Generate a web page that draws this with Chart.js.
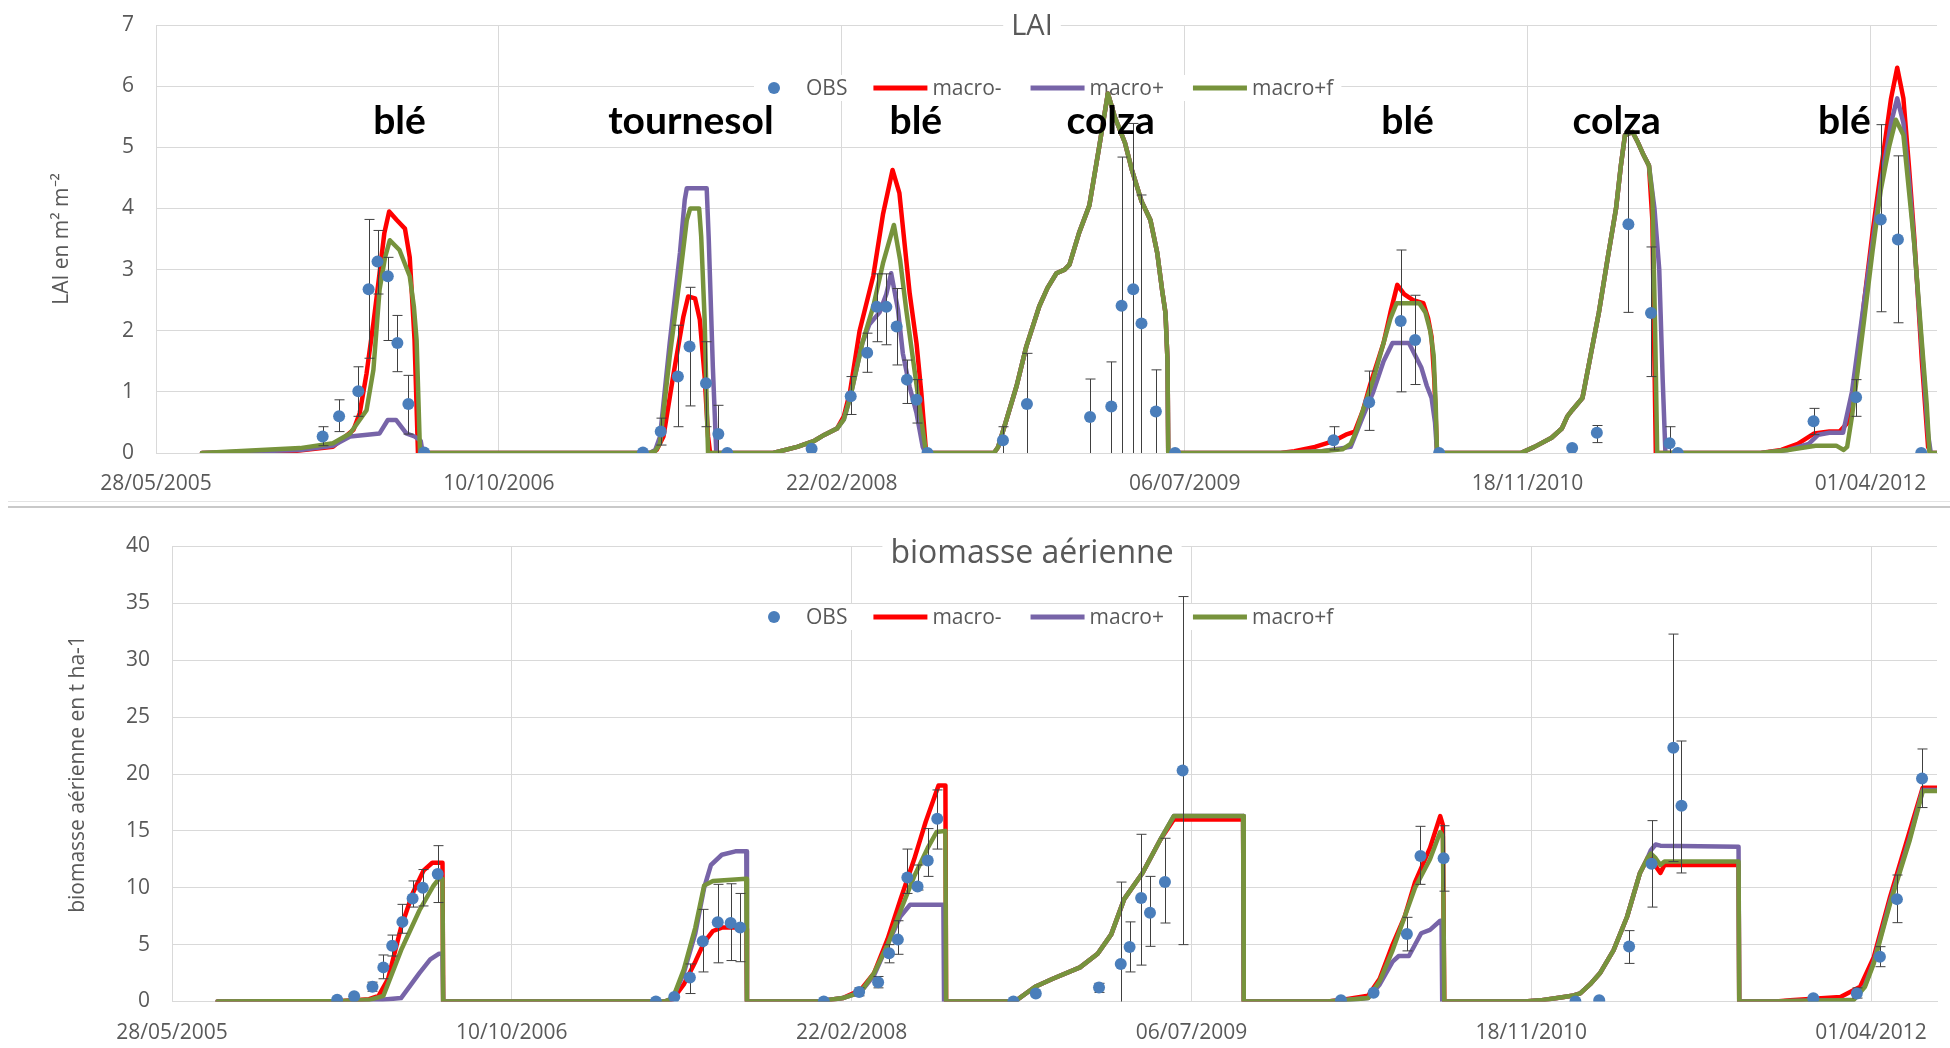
<!DOCTYPE html>
<html>
<head>
<meta charset="utf-8">
<script src="https://cdn.jsdelivr.net/npm/chart.js@4.4.1/dist/chart.umd.min.js"></script>
<style>
  body { margin: 0; background: #fff; width: 1950px; height: 1048px; overflow: hidden; position: relative; }
  #lai { position: absolute; left: 0; top: 0; }
  #bio { position: absolute; left: 0; top: 510px; }
  .sep { position: absolute; left: 8px; right: 0; top: 501px; height: 4px; border-top: 1px solid #e3e3e3; border-bottom: 2px solid #c9c9c9; }
</style>
</head>
<body>
<canvas id="lai" width="1950" height="503"></canvas>
<div class="sep"></div>
<canvas id="bio" width="1950" height="538"></canvas>
<script>
// jours depuis le 28/05/2005
const START = Date.UTC(2005, 4, 28);
const tickDays = [0, 500, 1000, 1500, 2000, 2500];
const seriesNames = ['OBS', 'macro-', 'macro+', 'macro+f'];

// ---- LAI ----
const laiObsDay = [243, 267, 295, 310, 323, 338, 352, 368, 391,
  710, 736, 761, 778, 802, 820, 833,
  956, 1013, 1037, 1051, 1065, 1080, 1095, 1109, 1125,
  1235, 1270, 1362, 1393, 1408, 1425, 1437, 1458, 1486,
  1717, 1769, 1815, 1836, 1871,
  2065, 2101, 2147, 2180, 2207, 2219,
  2417, 2479, 2515, 2540, 2574];
const laiObs = [0.27, 0.6, 1.01, 2.68, 3.13, 2.89, 1.8, 0.8, 0.01,
  0.01, 0.35, 1.25, 1.74, 1.14, 0.31, 0.0,
  0.07, 0.93, 1.64, 2.39, 2.39, 2.07, 1.2, 0.87, 0,
  0.21, 0.8, 0.59, 0.76, 2.41, 2.68, 2.12, 0.68, 0,
  0.21, 0.83, 2.16, 1.85, 0,
  0.08, 0.33, 3.74, 2.29, 0.16, 0,
  0.52, 0.91, 3.82, 3.49, 0];
const laiObsLow = [0.12, 0.35, 0.6, 1.55, 2.6, 1.84, 1.33, 0.31, null,
  null, 0.13, 0.43, 0.77, 0.43, 0, null,
  null, 0.63, 1.32, 1.82, 1.77, 1.44, 0.81, 0.49, null,
  0, 0, 0, 0, 0, 0, 0, 0, null,
  0.05, 0.37, 1.0, 1.12, null,
  null, 0.17, 2.3, 1.25, 0, null,
  0.3, 0.6, 2.31, 2.13, null];
const laiObsHigh = [0.43, 0.87, 1.41, 3.82, 3.64, 3.2, 2.25, 1.27, null,
  null, 0.57, 2.09, 2.71, 1.82, 0.78, null,
  null, 1.25, 1.96, 2.93, 2.93, 2.69, 1.52, 1.2, null,
  0.43, 1.63, 1.21, 1.49, 4.84, 5.39, 4.22, 1.36, null,
  0.43, 1.34, 3.32, 2.58, null,
  null, 0.45, 5.22, 3.37, 0.43, null,
  0.73, 1.2, 5.37, 4.86, null];

const laiColza09 = [[1222, 0], [1228, 0.1], [1240, 0.54], [1255, 1.1], [1269, 1.74], [1288, 2.4], [1300, 2.7],
  [1313, 2.94], [1325, 3.0], [1332, 3.08], [1346, 3.6], [1361, 4.05], [1376, 5.05], [1388, 5.88], [1398, 5.5],
  [1413, 5.07], [1423, 4.63], [1437, 4.12], [1450, 3.81], [1460, 3.27], [1467, 2.67], [1472, 2.29], [1475, 1.5],
  [1476, 0]];
const laiColza11 = [[1990, 0], [2010, 0.1], [2035, 0.25], [2050, 0.4], [2058, 0.6], [2065, 0.7], [2080, 0.9],
  [2092, 1.6], [2104, 2.3], [2117, 3.2], [2129, 4.0], [2136, 4.7], [2142, 5.2], [2153, 5.25], [2160, 5.1],
  [2168, 4.9], [2177, 4.7]];

const laiMacroMinus = [[67, 0], [200, 0.03], [258, 0.1], [288, 0.38], [297, 0.65], [307, 1.3], [317, 2.12],
  [326, 2.94], [333, 3.6], [340, 3.95], [351, 3.81], [363, 3.67], [370, 3.2], [377, 1.85], [382, 0],
  [720, 0], [730, 0.05], [740, 0.27], [754, 1.25], [769, 2.23], [776, 2.56], [786, 2.53], [793, 2.18], [800, 1.25],
  [805, 0.27], [808, 0],
  [900, 0], [935, 0.1], [960, 0.2], [975, 0.3], [993, 0.4], [1003, 0.6], [1012, 1.0], [1026, 2.0], [1046, 2.9],
  [1060, 3.9], [1074, 4.63], [1084, 4.25], [1099, 2.61], [1109, 1.79], [1116, 0.98], [1123, 0],
  ...laiColza09,
  [1640, 0], [1660, 0.03], [1690, 0.1], [1718, 0.2], [1735, 0.3], [1748, 0.35], [1760, 0.7], [1770, 1.1], [1790, 1.8],
  [1800, 2.3], [1810, 2.75], [1820, 2.6], [1833, 2.5], [1848, 2.45], [1855, 2.2], [1860, 1.9], [1864, 1.2], [1868, 0],
  ...laiColza11, [2182, 3.8], [2185, 1.5], [2187, 0],
  [2340, 0], [2370, 0.05], [2394, 0.15], [2418, 0.32], [2440, 0.35], [2455, 0.35], [2467, 0.5], [2480, 1.3], [2491, 2.5],
  [2503, 3.6], [2515, 4.6], [2530, 5.8], [2539, 6.3], [2548, 5.8], [2556, 4.7], [2564, 3.5], [2575, 1.5], [2584, 0.1],
  [2588, 0], [2596, 0]];
const laiMacroPlus = [[67, 0], [210, 0.05], [258, 0.12], [283, 0.27], [326, 0.32], [338, 0.54], [350, 0.54],
  [365, 0.32], [377, 0.27], [386, 0.2], [389, 0],
  [720, 0], [728, 0.05], [735, 0.27], [749, 1.79], [764, 3.27], [771, 4.14], [774, 4.33], [803, 4.33], [806, 3.5],
  [812, 1.4], [817, 0],
  [900, 0], [935, 0.1], [960, 0.2], [975, 0.3], [993, 0.4], [1003, 0.55], [1012, 0.9], [1030, 1.8], [1040, 2.1],
  [1055, 2.3], [1065, 2.6], [1072, 2.94], [1082, 2.34], [1089, 1.63], [1099, 1.08], [1109, 0.65], [1118, 0.1],
  [1122, 0],
  ...laiColza09,
  [1640, 0], [1700, 0.03], [1742, 0.1], [1760, 0.6], [1775, 1.0], [1790, 1.5], [1803, 1.8], [1827, 1.8], [1836, 1.6],
  [1845, 1.4], [1853, 1.1], [1860, 0.9], [1865, 0.5], [1868, 0],
  ...laiColza11, [2185, 4.0], [2192, 3.0], [2197, 1.2], [2201, 0],
  [2340, 0], [2380, 0.05], [2410, 0.15], [2424, 0.3], [2440, 0.33], [2460, 0.33], [2473, 1.0], [2491, 2.5], [2515, 4.4],
  [2530, 5.4], [2539, 5.8], [2548, 5.4], [2556, 4.5], [2564, 3.4], [2575, 1.7], [2584, 0.3], [2588, 0], [2596, 0]];
const laiMacroPlusF = [[67, 0], [210, 0.08], [258, 0.16], [283, 0.32], [307, 0.7], [317, 1.36], [326, 2.67],
  [334, 3.2], [341, 3.48], [355, 3.32], [370, 2.89], [376, 2.4], [380, 1.85], [385, 0],
  [720, 0], [728, 0.03], [735, 0.16], [749, 1.57], [764, 2.88], [774, 3.81], [779, 4.0], [792, 4.0], [795, 3.54],
  [800, 2.18], [803, 0.81], [805, 0],
  [900, 0], [935, 0.1], [960, 0.2], [975, 0.3], [993, 0.4], [1003, 0.55], [1012, 0.9], [1030, 1.8], [1046, 2.4],
  [1060, 3.1], [1076, 3.73], [1085, 3.16], [1094, 2.34], [1104, 1.52], [1114, 0.7], [1123, 0],
  ...laiColza09,
  [1640, 0], [1700, 0.03], [1730, 0.06], [1742, 0.15], [1750, 0.35], [1760, 0.7], [1775, 1.2], [1790, 1.8], [1800, 2.2],
  [1809, 2.45], [1842, 2.45], [1851, 2.3], [1858, 2.0], [1863, 1.6], [1866, 0.8], [1868, 0],
  ...laiColza11, [2182, 4.2], [2186, 2.0], [2189, 0],
  [2340, 0], [2380, 0.05], [2420, 0.12], [2450, 0.12], [2461, 0.05], [2466, 0.1], [2473, 0.6], [2482, 1.4], [2491, 2.2],
  [2503, 3.3], [2515, 4.3], [2527, 5.0], [2537, 5.45], [2548, 5.2], [2556, 4.3], [2564, 3.4], [2575, 1.8], [2582, 0.8],
  [2586, 0], [2596, 0]];

const cropNames = ['blé', 'tournesol', 'blé', 'colza', 'blé', 'colza', 'blé'];
const cropDays = [355, 780, 1108, 1392, 1825, 2130, 2462];

// ---- biomasse aérienne ----
const bioObsDay = [243, 268, 295, 311, 324, 339, 354, 369, 391,
  712, 739, 762, 781, 803, 822, 836,
  959, 1011, 1039, 1055, 1068, 1082, 1097, 1112, 1126,
  1238, 1271, 1364, 1396, 1409, 1426, 1439, 1461, 1487,
  1720, 1768, 1817, 1837, 1871,
  2065, 2100, 2144, 2177, 2209, 2221,
  2415, 2479, 2513, 2538, 2575];
const bioObs = [0.15, 0.46, 1.29, 3.0, 4.9, 7.0, 9.06, 10.0, 11.2,
  0, 0.4, 2.1, 5.3, 6.97, 6.9, 6.5,
  0, 0.83, 1.7, 4.24, 5.44, 10.9, 10.1, 12.4, 16.07,
  0, 0.7, 1.23, 3.3, 4.8, 9.1, 7.8, 10.5, 20.3,
  0.1, 0.77, 5.93, 12.8, 12.6,
  0, 0.1, 4.83, 12.1, 22.3, 17.2,
  0.28, 0.71, 3.94, 9.0, 19.6];
const bioObsLow = [null, null, 0.9, 2.0, 4.0, 6.0, 8.3, 8.4, 8.7,
  null, null, 0.7, 2.6, 3.4, 3.6, 3.5,
  null, 0.5, 1.2, 3.4, 4.15, 9.5, 9.8, 11.0, 13.4,
  null, null, 0.8, 0, 2.6, 3.2, 4.85, 6.9, 5.0,
  null, null, 4.45, 10.3, 9.7,
  null, null, 3.35, 8.3, 12.3, 11.3,
  null, 0.3, 3.06, 6.93, 17.05];
const bioObsHigh = [null, null, 1.7, 4.09, 5.84, 8.54, 10.6, 11.6, 13.7,
  null, null, 3.3, 8.1, 10.3, 10.35, 9.5,
  null, 1.2, 2.2, 5.0, 7.1, 13.4, 12.0, 15.2, 18.6,
  null, null, 1.6, 10.5, 7.0, 14.7, 11.0, 14.35, 35.6,
  null, null, 7.4, 15.4, 15.45,
  null, null, 6.23, 15.9, 32.3, 22.9,
  null, 1.2, 4.82, 11.12, 22.2];

const bioColza09 = [[1240, 0], [1270, 1.3], [1296, 2.0], [1336, 3.0], [1362, 4.2], [1382, 5.9], [1401, 9.0],
  [1428, 11.3], [1454, 14.2]];
const bioColza11 = [[1990, 0], [2013, 0.1], [2043, 0.35], [2060, 0.5], [2072, 0.72], [2088, 1.6], [2101, 2.48],
  [2121, 4.5], [2141, 7.45], [2160, 11.3], [2171, 12.6]];

const bioMacroMinus = [[67, 0], [250, 0.05], [290, 0.2], [304, 0.5], [318, 2.0], [337, 6.5], [354, 9.5], [370, 11.5],
  [383, 12.2], [398, 12.2], [399, 0],
  [725, 0], [737, 0.2], [753, 1.5], [770, 3.5], [783, 5.2], [796, 6.2], [809, 6.5], [836, 6.5], [845, 6.4], [846, 0],
  [950, 0], [987, 0.3], [1013, 1.0], [1033, 2.5], [1053, 5.5], [1072, 9.0], [1092, 12.5], [1109, 15.8], [1125, 18.5],
  [1128, 19.0], [1138, 19.0], [1139, 0],
  ...bioColza09, [1474, 16.0], [1576, 16.0], [1577, 0],
  [1700, 0], [1723, 0.15], [1760, 0.5], [1777, 2.0], [1796, 5.0], [1814, 7.5], [1829, 10.5], [1851, 13.5],
  [1866, 16.3], [1870, 15.5], [1872, 0],
  ...bioColza11, [2176, 12.9], [2183, 11.9], [2190, 11.3], [2196, 12.0], [2305, 12.0], [2306, 0],
  [2360, 0], [2381, 0.1], [2455, 0.4], [2484, 1.3], [2504, 3.9], [2528, 9.2], [2553, 14.2], [2576, 18.8],
  [2597, 18.8]];
const bioMacroPlus = [[67, 0], [250, 0.03], [300, 0.1], [337, 0.3], [364, 2.5], [380, 3.7], [393, 4.2], [398, 4.2],
  [399, 0],
  [725, 0], [737, 0.3], [753, 2.5], [770, 6.0], [783, 10.0], [793, 12.0], [809, 12.9], [829, 13.2], [845, 13.2], [846, 0],
  [950, 0], [987, 0.3], [1013, 0.8], [1033, 2.3], [1053, 5.0], [1072, 7.5], [1086, 8.5], [1135, 8.5], [1136, 0],
  ...bioColza09, [1474, 16.3], [1576, 16.3], [1577, 0],
  [1700, 0], [1723, 0.1], [1760, 0.3], [1777, 1.5], [1796, 3.5], [1805, 4.0], [1820, 4.0], [1838, 6.0], [1851, 6.3],
  [1866, 7.1], [1868, 7.1], [1869, 0],
  ...bioColza11, [2176, 13.3], [2183, 13.8], [2190, 13.7], [2305, 13.6], [2306, 0],
  [2360, 0], [2381, 0.05], [2454, 0.1], [2474, 0.15], [2491, 1.4], [2504, 3.5], [2528, 8.8], [2557, 14.4],
  [2576, 18.6], [2597, 18.6]];
const bioMacroPlusF = [[67, 0], [250, 0.05], [290, 0.15], [311, 0.5], [324, 2.5], [337, 4.5], [364, 8.0], [385, 10.2],
  [393, 10.8], [398, 10.8], [399, 0],
  [725, 0], [737, 0.3], [753, 2.8], [770, 6.5], [783, 10.2], [796, 10.6], [845, 10.8], [846, 0],
  [950, 0], [987, 0.3], [1013, 0.8], [1033, 2.5], [1053, 5.0], [1072, 8.0], [1092, 11.0], [1112, 13.5], [1125, 14.9],
  [1138, 15.0], [1139, 0],
  ...bioColza09, [1474, 16.3], [1576, 16.3], [1577, 0],
  [1700, 0], [1723, 0.1], [1760, 0.3], [1777, 1.8], [1796, 4.5], [1814, 7.5], [1829, 10.0], [1851, 12.5],
  [1866, 14.9], [1870, 14.5], [1872, 0],
  ...bioColza11, [2176, 13.0], [2183, 12.6], [2190, 12.0], [2196, 12.3], [2305, 12.3], [2306, 0],
  [2360, 0], [2381, 0.05], [2454, 0.1], [2474, 0.1], [2491, 1.3], [2504, 3.35], [2528, 8.63], [2557, 14.2],
  [2576, 18.5], [2597, 18.5]];

const TXT = '#595959';
const GRID = '#d9d9d9';
const colors = ['#4a7ebb', '#ff0000', '#7764a8', '#77933c'];

function pad(n) { return (n < 10 ? '0' : '') + n; }
function fmtDate(v) {
  const d = new Date(START + v * 86400000);
  return pad(d.getUTCDate()) + '/' + pad(d.getUTCMonth() + 1) + '/' + d.getUTCFullYear();
}
const pts = arr => arr.map(p => ({ x: p[0], y: p[1] }));

// titre, légende, barres d'erreur, noms des cultures
const decor = {
  id: 'decor',
  beforeDatasetsDraw(chart, args, o) {
    const ctx = chart.ctx;
    ctx.save();
    ctx.font = o.titleSize + 'px "Open Sans"';
    const tw = ctx.measureText(o.title).width;
    ctx.fillStyle = '#fff';
    ctx.fillRect(o.titleX - tw / 2 - 8, o.titleY - 17, tw + 16, 34);
    ctx.fillStyle = TXT;
    ctx.textAlign = 'center';
    ctx.textBaseline = 'middle';
    ctx.fillText(o.title, o.titleX, o.titleY);

    ctx.font = '21px "Open Sans"';
    ctx.textAlign = 'left';
    const items = chart.data.datasets.map((ds, i) => ({ label: ds.label, color: colors[i], dot: i === 0 }));
    let total = 0;
    items.forEach((it, i) => {
      it.w = ctx.measureText(it.label).width;
      total += (it.dot ? 44 : 59) + it.w + (i < items.length - 1 ? (it.dot ? 26 : 29) : 0);
    });
    let x = o.legendX;
    const y = o.legendY;
    ctx.fillStyle = '#fff';
    ctx.fillRect(x - 8, y - 13, total + 16, 26);
    items.forEach(it => {
      if (it.dot) {
        ctx.fillStyle = it.color;
        ctx.beginPath();
        ctx.arc(x + 12, y, 6, 0, Math.PI * 2);
        ctx.fill();
        ctx.fillStyle = TXT;
        ctx.fillText(it.label, x + 44, y + 1);
        x += 44 + it.w + 26;
      } else {
        ctx.strokeStyle = it.color;
        ctx.lineWidth = 5;
        ctx.beginPath();
        ctx.moveTo(x, y);
        ctx.lineTo(x + 54, y);
        ctx.stroke();
        ctx.fillStyle = TXT;
        ctx.fillText(it.label, x + 59, y + 1);
        x += 59 + it.w + 29;
      }
    });
    ctx.restore();
  },
  beforeDatasetDraw(chart, args, o) {
    if (args.index !== 0) return;
    const ctx = chart.ctx, xs = chart.scales.x, ys = chart.scales.y;
    ctx.save();
    ctx.strokeStyle = '#404040';
    ctx.lineWidth = 1;
    o.days.forEach((d, i) => {
      if (o.low[i] === null) return;
      const px = Math.round(xs.getPixelForValue(d)) + 0.5;
      const y1 = ys.getPixelForValue(o.low[i]), y2 = ys.getPixelForValue(o.high[i]);
      ctx.beginPath();
      ctx.moveTo(px, y1); ctx.lineTo(px, y2);
      ctx.moveTo(px - 5, y2); ctx.lineTo(px + 5, y2);
      if (o.low[i] > 0) { ctx.moveTo(px - 5, y1); ctx.lineTo(px + 5, y1); }
      ctx.stroke();
    });
    ctx.restore();
  },
  afterDatasetsDraw(chart, args, o) {
    if (!o.crops) return;
    const ctx = chart.ctx, xs = chart.scales.x, ys = chart.scales.y;
    ctx.save();
    ctx.font = 'bold 39px Lato';
    ctx.fillStyle = '#000';
    ctx.textAlign = 'center';
    ctx.textBaseline = 'alphabetic';
    o.crops.forEach((c, i) => ctx.fillText(c, xs.getPixelForValue(o.cropDays[i]), ys.getPixelForValue(5.22)));
    ctx.restore();
  }
};

function makeChart(id, p) {
  const tickFont = { family: 'Open Sans', size: 21 };
  return new Chart(document.getElementById(id), {
    type: 'line',
    data: {
      datasets: [
        { label: seriesNames[0], data: p.obsDay.map((d, i) => ({ x: d, y: p.obs[i] })), showLine: false,
          pointRadius: 6, pointBackgroundColor: colors[0], pointBorderWidth: 0, order: 0 },
        { label: seriesNames[1], data: pts(p.minus), borderColor: colors[1], borderWidth: 4.5, pointRadius: 0, order: 3 },
        { label: seriesNames[2], data: pts(p.plus), borderColor: colors[2], borderWidth: 4.5, pointRadius: 0, order: 2 },
        { label: seriesNames[3], data: pts(p.plusF), borderColor: colors[3], borderWidth: 4.5, pointRadius: 0, order: 1 }
      ]
    },
    options: {
      responsive: false,
      animation: false,
      devicePixelRatio: 1,
      elements: { line: { tension: 0, borderJoinStyle: 'round', borderCapStyle: 'round' } },
      layout: { padding: { left: 0, right: 13, top: p.padTop, bottom: 0 } },
      plugins: {
        legend: { display: false },
        tooltip: { enabled: false },
        decor: {
          title: p.title, titleSize: p.titleSize, titleX: 1032, titleY: p.titleY, legendX: 762, legendY: p.legendY,
          days: p.obsDay, low: p.low, high: p.high, crops: p.crops, cropDays: p.cropDays
        }
      },
      scales: {
        x: {
          type: 'linear', min: 0, max: 2597,
          grid: { color: GRID, drawTicks: false },
          border: { color: GRID },
          afterBuildTicks: s => { s.ticks = tickDays.map(v => ({ value: v })); },
          ticks: { autoSkip: false, maxRotation: 0, padding: p.xPad, color: TXT, font: tickFont,
            callback: v => fmtDate(v) },
          afterFit: s => { s.height = p.xHeight; s.paddingRight = 0; }
        },
        y: {
          min: 0, max: p.yMax,
          grid: { color: GRID, drawTicks: false },
          border: { color: GRID },
          ticks: { stepSize: p.yStep, padding: 22, color: TXT, font: tickFont },
          title: { display: true, text: p.yTitle, color: TXT, font: tickFont, padding: { top: p.yTitlePad, bottom: 0 } },
          afterFit: s => { s.width = p.yWidth; s.paddingTop = 0; s.paddingBottom = 0; }
        }
      }
    },
    plugins: [decor]
  });
}

makeChart('lai', {
  obsDay: laiObsDay, obs: laiObs, low: laiObsLow, high: laiObsHigh,
  minus: laiMacroMinus, plus: laiMacroPlus, plusF: laiMacroPlusF,
  title: 'LAI', titleSize: 29, titleY: 27, legendY: 88, crops: cropNames, cropDays: cropDays,
  padTop: 25, xHeight: 50, xPad: 18, yMax: 7, yStep: 1, yWidth: 156,
  yTitle: 'LAI en m² m⁻²', yTitlePad: 49
});
makeChart('bio', {
  obsDay: bioObsDay, obs: bioObs, low: bioObsLow, high: bioObsHigh,
  minus: bioMacroMinus, plus: bioMacroPlus, plusF: bioMacroPlusF,
  title: 'biomasse aérienne', titleSize: 32, titleY: 44, legendY: 107, crops: null, cropDays: null,
  padTop: 36.5, xHeight: 46.5, xPad: 19, yMax: 40, yStep: 5, yWidth: 172,
  yTitle: 'biomasse aérienne en t ha-1', yTitlePad: 65
});
</script>
</body>
</html>
